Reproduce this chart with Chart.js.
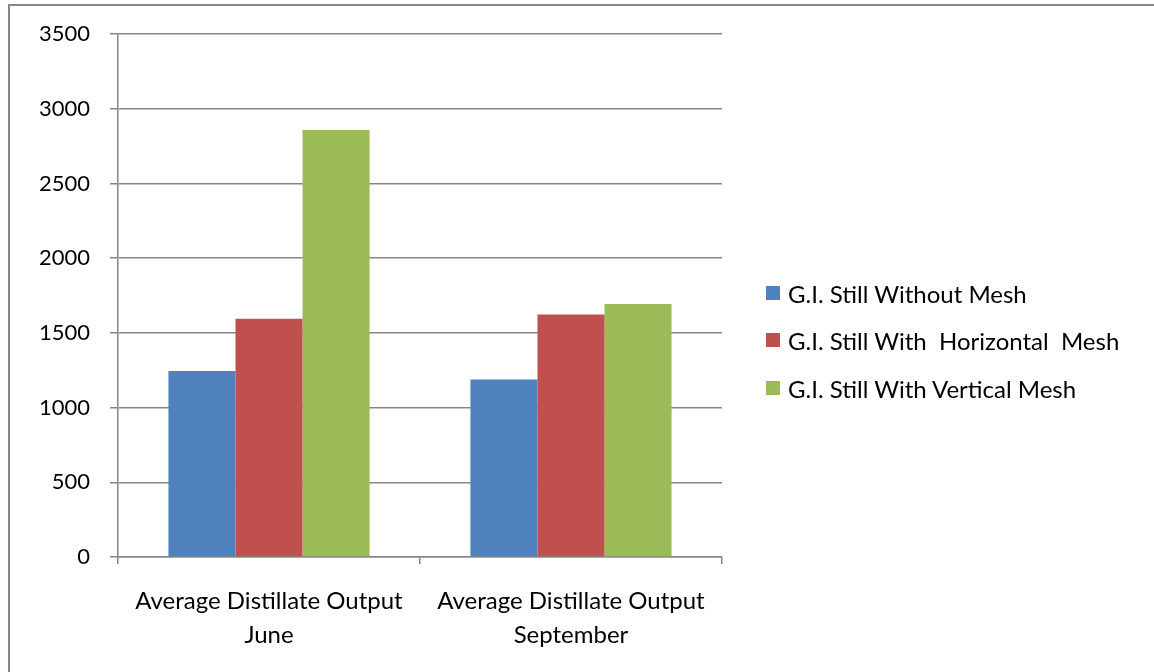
<!DOCTYPE html>
<html>
<head>
<meta charset="utf-8">
<script src="https://cdn.jsdelivr.net/npm/chart.js@4/dist/chart.umd.min.js"></script>
<style>
  html, body { margin: 0; padding: 0; background: #fff; }
  #wrap { position: relative; width: 1154px; height: 672px; overflow: hidden; }
  #frame { position: absolute; left: 8px; top: 4px; width: 1200px; height: 720px;
           border-left: 2px solid #878787; border-top: 2px solid #878787; }
  canvas { position: absolute; left: 0; top: 0; }
  #legend { position: absolute; left: 766px; top: 0; font-family: Lato, sans-serif; font-size: 24px; color: #000; }
  .item { position: absolute; left: 0; white-space: pre; display: flex; align-items: center; }
  .sw { width: 14px; height: 14px; margin-right: 8px; display: inline-block; }
</style>
</head>
<body>
<div id="wrap">
  <div id="frame"></div>
  <canvas id="chart" width="1154" height="672"></canvas>
  <div id="legend"></div>
</div>
<script>
const categories = [
  ['Average Distillate Output', 'June'],
  ['Average Distillate Output', 'September']
];
const seriesNames = [
  'G.I. Still Without Mesh',
  'G.I. Still With  Horizontal  Mesh',
  'G.I. Still With Vertical Mesh'
];
const withoutMesh = [1245, 1188];
const horizontalMesh = [1595, 1623];
const verticalMesh = [2858, 1693];
const seriesColors = ['#4F81BD', '#C0504D', '#9BBB59'];
const yTicks = [0, 500, 1000, 1500, 2000, 2500, 3000, 3500];

const values = [withoutMesh, horizontalMesh, verticalMesh];

const ctx = document.getElementById('chart').getContext('2d');
new Chart(ctx, {
  type: 'bar',
  data: {
    labels: categories,
    datasets: seriesNames.map((name, i) => ({
      label: name,
      data: values[i],
      backgroundColor: seriesColors[i],
      borderWidth: 0,
      categoryPercentage: 0.666,
      barPercentage: 1.0
    }))
  },
  options: {
    responsive: false,
    animation: false,
    layout: { padding: { left: 0, right: 432, top: 34, bottom: 0 } },
    plugins: { legend: { display: false }, tooltip: { enabled: false } },
    scales: {
      x: {
        grid: { drawOnChartArea: false, drawTicks: true, tickLength: 7, color: '#878787', lineWidth: 1.5 },
        border: { color: '#878787', width: 1.5 },
        ticks: { color: '#000', font: { family: 'Lato', size: 24, lineHeight: 1.42 }, padding: 20, maxRotation: 0 },
        afterFit: s => { s.height = 115; }
      },
      y: {
        min: 0,
        max: 3500,
        afterBuildTicks: s => { s.ticks = yTicks.map(v => ({ value: v })); },
        grid: { color: '#878787', lineWidth: 1.5, tickLength: 8 },
        border: { color: '#878787', width: 1.5 },
        ticks: { color: '#000', font: { family: 'Lato', size: 22 }, padding: 20, callback: v => String(v) },
        afterFit: s => { s.width = 118; }
      }
    }
  }
});

const legend = document.getElementById('legend');
const rowY = [293, 340, 388];
seriesNames.forEach((name, i) => {
  const item = document.createElement('div');
  item.className = 'item';
  item.style.top = (rowY[i] - 15) + 'px';
  item.style.height = '30px';
  const sw = document.createElement('span');
  sw.className = 'sw';
  sw.style.background = seriesColors[i];
  const txt = document.createElement('span');
  txt.textContent = name;
  item.appendChild(sw);
  item.appendChild(txt);
  legend.appendChild(item);
});
</script>
</body>
</html>
